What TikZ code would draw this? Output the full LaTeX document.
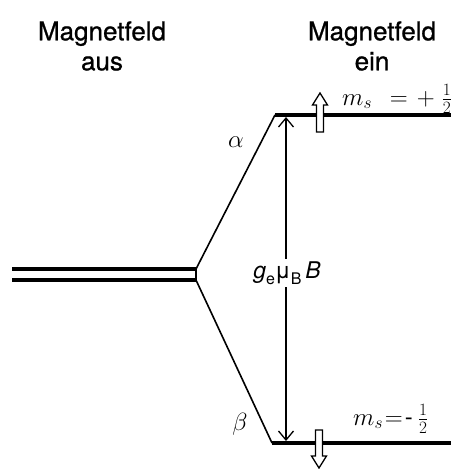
\documentclass[tikz,border=0pt]{standalone}
\usepackage{fontspec}
\setmainfont{TeX Gyre Heros}
\newfontfamily\titlefont[FakeBold=0.8]{TeX Gyre Heros}
\usetikzlibrary{arrows.meta}
\tikzset{
  level/.style={line width=3.2pt},
  split/.style={line width=1.6pt},
  gap/.style={line width=1.3pt, {Straight Barb[length=9pt,width=15pt,line width=1.3pt]}-{Straight Barb[length=9pt,width=15pt,line width=1.3pt]}},
  spinarrow/.style={draw=black, fill=white, line width=1.3pt},
  title/.style={align=center, font=\titlefont\fontsize{26}{30}\selectfont, inner sep=0pt},
  lab/.style={font=\fontsize{24}{28}\selectfont, inner sep=0pt},
}
\begin{document}
\begin{tikzpicture}[x=1pt,y=-1pt]
\useasboundingbox (0,0) rectangle (451,469);
% titles
\node[title] (off) at (102,46) {Magnetfeld\\aus};
\node[title] (on) at (372,46) {Magnetfeld\\ein};
% degenerate level (double line)
\coordinate (d1a) at (12,269);
\coordinate (d1b) at (196,269);
\coordinate (d2a) at (12,280);
\coordinate (d2b) at (196,280);
\draw[level, line cap=butt] (d1a) -- (d1b);
\draw[level, line cap=butt] (d2a) -- (d2b);
\draw[line width=2.4pt] (d1b) -- (d2b);
% split levels
\coordinate (ua) at (275,115);
\coordinate (ub) at (451,115);
\coordinate (la) at (272,443);
\coordinate (lb) at (451,443);
\draw[level] (ua) -- (ub);
\draw[level] (la) -- (lb);
\draw[split] (d1b) -- (ua);
\draw[split] (d2b) -- (la);
% energy gap arrow
\coordinate (gt) at (286,117);
\coordinate (gb) at (286,441);
\draw[gap] (gb) -- (gt);
\node[font=\fontsize{23}{26}\selectfont, fill=white, inner sep=2pt] (gap) at (287,273) {\textit{g}\raisebox{-0.28em}{\fontsize{16}{16}\selectfont e}μ\raisebox{-0.28em}{\fontsize{16}{16}\selectfont B}\,\textit{B}};
% spin arrows (hollow)
\draw[spinarrow] (320,93) -- (327.5,105) -- (323.5,105) -- (323.5,132) -- (316.5,132) -- (316.5,105) -- (312.5,105) -- cycle;
\draw[spinarrow] (319,468) -- (326.5,456) -- (322.5,456) -- (322.5,430) -- (315.5,430) -- (315.5,456) -- (311.5,456) -- cycle;
% labels
\node[lab, anchor=base west] (msp) at (342,105) {$m_s\hspace{18pt}{=}\hspace{9pt}{+}\hspace{7pt}\frac{1}{2}$};
\node[lab, anchor=base west] (msm) at (353,425) {$m_s\hspace{2pt}{=}\hspace{2pt}\mbox{-}\hspace{5pt}\frac{1}{2}$};
\node[lab] (alpha) at (236,142) {$\alpha$};
\node[lab] (beta) at (240,424) {$\beta$};
\end{tikzpicture}
\end{document}
